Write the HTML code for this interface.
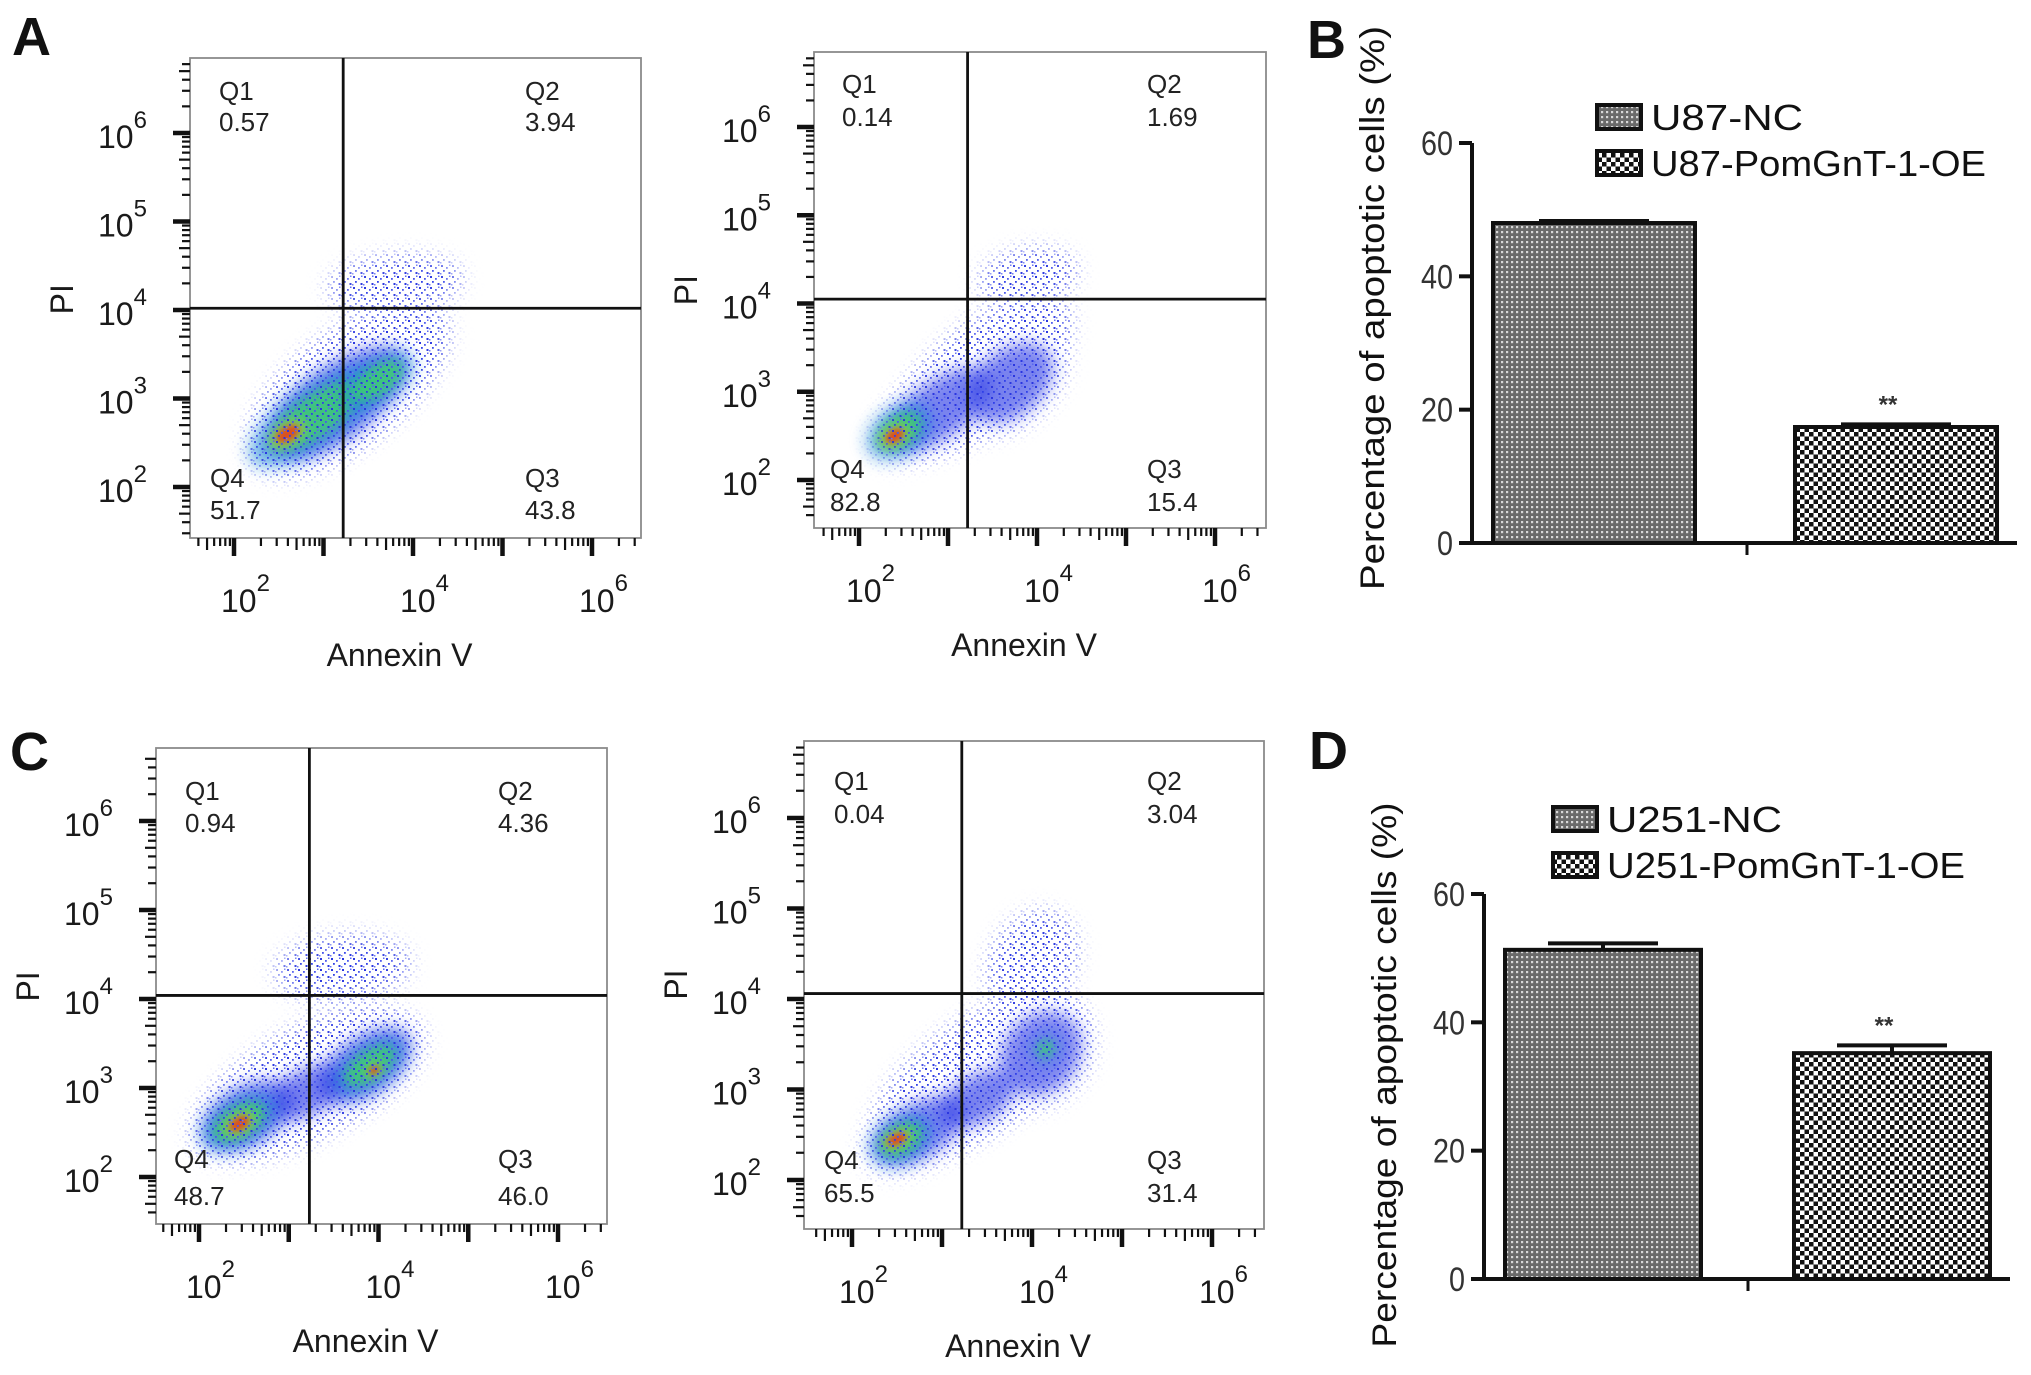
<!DOCTYPE html>
<html><head><meta charset="utf-8">
<style>
html,body{margin:0;padding:0;background:#fff;}
svg{display:block;font-family:"Liberation Sans",Arial,sans-serif;}
</style></head>
<body>
<svg id="fig" width="2031" height="1375" viewBox="0 0 2031 1375" xmlns="http://www.w3.org/2000/svg">
<defs>
  <filter id="blur9" x="-50%" y="-50%" width="200%" height="200%"><feGaussianBlur stdDeviation="10"/></filter>
  <filter id="blur6" x="-50%" y="-50%" width="200%" height="200%"><feGaussianBlur stdDeviation="8"/></filter>
  <filter id="blur4" x="-50%" y="-50%" width="200%" height="200%"><feGaussianBlur stdDeviation="5"/></filter>
  <filter id="blur2" x="-50%" y="-50%" width="200%" height="200%"><feGaussianBlur stdDeviation="3"/></filter>
  <pattern id="dots" width="11" height="11" patternUnits="userSpaceOnUse">
    <rect x="1" y="1" width="2" height="2" fill="#2a36e0"/>
    <rect x="6" y="3" width="1.8" height="1.8" fill="#4a56ee"/>
    <rect x="3" y="6" width="1.8" height="1.8" fill="#3040e8"/>
    <rect x="8.5" y="8" width="2" height="2" fill="#2a36e0"/>
    <rect x="0" y="9" width="1.5" height="1.5" fill="#6a76f2"/>
    <rect x="9" y="0.5" width="1.5" height="1.5" fill="#5a66f0"/>
  </pattern>
  <pattern id="patNC" width="5" height="5" patternUnits="userSpaceOnUse">
    <rect width="5" height="5" fill="#6a6a6a"/>
    <rect x="1" y="1" width="2.2" height="2.2" fill="#d8d8d8"/>
  </pattern>
  <pattern id="patOE" width="9" height="9" patternUnits="userSpaceOnUse">
    <rect width="9" height="9" fill="#fff"/>
    <rect x="0" y="0" width="4.5" height="4.5" fill="#111"/>
    <rect x="4.5" y="4.5" width="4.5" height="4.5" fill="#111"/>
  </pattern>
</defs>
</svg>
<script>
// ===== Flow cytometry data (log10 units) =====
const A1_quadValues = ['0.57','3.94','43.8','51.7'];
const A1_blobX = [3.3, 3.8, 3.15, 2.9, 3.6, 2.6];
const A1_blobY = [3.15, 4.3, 2.95, 2.8, 3.2, 2.6];
const A1_blobRx = [1.3, 0.75, 1.0, 0.75, 0.4, 0.14];
const A1_blobRy = [0.6, 0.3, 0.45, 0.28, 0.2, 0.08];
const A1_blobAngle = [-37, -5, -37, -35, -35, -30];
const A1_blobLevel = [0, 0, 1, 2, 2, 3];

const A2_quadValues = ['0.14','1.69','15.4','82.8'];
const A2_blobX = [3.4, 3.9, 2.9, 3.7, 2.45, 2.4];
const A2_blobY = [3.2, 4.3, 2.8, 3.1, 2.55, 2.5];
const A2_blobRx = [1.2, 0.55, 0.75, 0.6, 0.35, 0.11];
const A2_blobRy = [0.55, 0.3, 0.35, 0.4, 0.22, 0.07];
const A2_blobAngle = [-40, -10, -35, -40, -35, -30];
const A2_blobLevel = [0, 0, 1, 1, 2, 3];

const C1_quadValues = ['0.94','4.36','46.0','48.7'];
const C1_blobX = [3.2, 3.6, 2.55, 3.85, 3.2, 2.45, 3.9, 2.45, 3.95];
const C1_blobY = [3.05, 4.35, 2.7, 3.25, 2.95, 2.62, 3.25, 2.6, 3.2];
const C1_blobRx = [1.3, 0.75, 0.6, 0.65, 0.5, 0.4, 0.4, 0.12, 0.06];
const C1_blobRy = [0.6, 0.35, 0.35, 0.35, 0.28, 0.22, 0.2, 0.07, 0.04];
const C1_blobAngle = [-30, -5, -30, -35, -30, -30, -35, -30, -30];
const C1_blobLevel = [0, 0, 1, 1, 1, 2, 2, 3, 3];

const C2_quadValues = ['0.04','3.04','31.4','65.5'];
const C2_blobX = [3.4, 4.0, 2.75, 4.1, 3.4, 2.55, 4.15, 2.5];
const C2_blobY = [3.15, 4.4, 2.55, 3.4, 2.9, 2.45, 3.45, 2.45];
const C2_blobRx = [1.35, 0.6, 0.6, 0.55, 0.5, 0.32, 0.12, 0.11];
const C2_blobRy = [0.6, 0.45, 0.32, 0.45, 0.28, 0.2, 0.1, 0.06];
const C2_blobAngle = [-35, -60, -30, -50, -30, -30, -40, -25];
const C2_blobLevel = [0, 0, 1, 1, 1, 2, 2, 3];

const flowDecades = [2, 3, 4, 5, 6];
const quadNames = ['Q1','Q2','Q3','Q4'];

// ===== Bar chart data =====
const barTicks = [0, 20, 40, 60];
const B_categories = ['U87-NC', 'U87-PomGnT-1-OE'];
const B_values = [48.0, 17.4];
const B_errors = [0.3, 0.4];
const D_categories = ['U251-NC', 'U251-PomGnT-1-OE'];
const D_values = [51.3, 35.2];
const D_errors = [1.0, 1.2];

const NS = 'http://www.w3.org/2000/svg';
const svg = document.getElementById('fig');
const defs = svg.querySelector('defs');
function mk(tag, attrs, parent) {
  const e = document.createElementNS(NS, tag);
  for (const k in attrs) e.setAttribute(k, attrs[k]);
  (parent || svg).appendChild(e);
  return e;
}

function panelLetter(txt, x, y) {
  const t = mk('text', {x: x, y: y, 'font-size': 54, 'font-weight': 'bold', fill: '#111'});
  t.textContent = txt;
  
  
}

function flowPanel(id, p, bx, by, brx, bry, bang, blev, quadVals) {
  const [L, T, R, B] = p.box;
  const xs = v => p.xt2 + (v - 2) * p.dx;
  const ys = v => p.yt2 - (v - 2) * p.dy;
  const g = mk('g', {});
  
  

  const clip = mk('clipPath', {id: 'clip-' + id}, defs);
  mk('rect', {x: L, y: T, width: R - L, height: B - T}, clip);
  const mask = mk('mask', {id: 'mask-' + id}, defs);

  const dense = mk('g', {'clip-path': 'url(#clip-' + id + ')'}, g);
  
  
  const dotLayer = mk('rect', {x: L, y: T, width: R - L, height: B - T, fill: 'url(#dots)', mask: 'url(#mask-' + id + ')', 'clip-path': 'url(#clip-' + id + ')'}, g);
  
  

  for (const lev of [0, 1, 2, 3]) {
    for (let i = 0; i < bx.length; i++) {
      if (blev[i] !== lev) continue;
      const cx = xs(bx[i]), cy = ys(by[i]);
      const rx = brx[i] * p.dx, ry = bry[i] * p.dy;
      const tr = 'rotate(' + bang[i] + ' ' + cx + ' ' + cy + ')';
      if (lev === 0) {
        mk('ellipse', {cx: cx, cy: cy, rx: rx, ry: ry, transform: tr, fill: '#fff', filter: 'url(#blur9)'}, mask);
      } else if (lev === 1) {
        mk('ellipse', {cx: cx, cy: cy, rx: rx * 1.15, ry: ry * 1.15, transform: tr, fill: '#fff', filter: 'url(#blur9)'}, mask);
        const e = mk('ellipse', {cx: cx, cy: cy, rx: rx * 0.9, ry: ry * 0.9, transform: tr, fill: '#2030e4', opacity: 0.6, filter: 'url(#blur6)'}, dense);
        
        
      } else if (lev === 2) {
        const c = mk('ellipse', {cx: cx, cy: cy, rx: rx * 1.15, ry: ry * 1.2, transform: tr, fill: '#1a8ad8', opacity: 0.65, filter: 'url(#blur6)'}, dense);
        
        
        const e = mk('ellipse', {cx: cx, cy: cy, rx: rx * 0.8, ry: ry * 0.8, transform: tr, fill: '#40d860', opacity: 0.75, filter: 'url(#blur4)'}, dense);
        
        
      } else {
        const o = mk('ellipse', {cx: cx, cy: cy, rx: rx * 1.6, ry: ry * 1.6, transform: tr, fill: '#c8c830', opacity: 0.6, filter: 'url(#blur4)'}, dense);
        
        
        const e = mk('ellipse', {cx: cx, cy: cy, rx: rx, ry: ry, transform: tr, fill: '#e83a18', opacity: 0.85, filter: 'url(#blur2)'}, dense);
        
        
      }
    }
  }

  const frame = mk('rect', {x: L, y: T, width: R - L, height: B - T, fill: 'none', stroke: '#8a8a8a', 'stroke-width': 1.8}, g);
  
  

  const gx = xs(p.gateX), gy = ys(p.gateY);
  const vg = mk('line', {x1: gx, y1: T, x2: gx, y2: B, stroke: '#111', 'stroke-width': 2.8}, g);
  
  
  const hg = mk('line', {x1: L, y1: gy, x2: R, y2: gy, stroke: '#111', 'stroke-width': 2.8}, g);
  
  

  for (let d = 1; d <= 6; d++) {
    for (let k = 1; k <= 9; k++) {
      const v = d + Math.log10(k);
      const yy = ys(v);
      if (yy >= T + 4 && yy <= B - 3) {
        const ln = mk('line', {x1: L, y1: yy, x2: L - (k === 1 ? 17 : (k === 5 ? 11 : 8)), y2: yy, stroke: '#111', 'stroke-width': k === 1 ? 4.5 : 2.2}, g);
        
        
      }
      const xx = xs(v);
      if (xx >= L + 4 && xx <= R - 3) {
        const ln = mk('line', {x1: xx, y1: B, x2: xx, y2: B + (k === 1 ? 18 : (k === 5 ? 12 : 8)), stroke: '#111', 'stroke-width': k === 1 ? 4.5 : 2.2}, g);
        
        
      }
    }
  }
  for (const e of flowDecades) {
    const t = mk('text', {x: L - 92, y: ys(e) + 15, 'font-size': 32, fill: '#1a1a1a'}, g);
    t.textContent = '10';
    const s = mk('tspan', {dy: -20, 'font-size': 24}, t);
    s.textContent = String(e);
    
    
  }
  for (const e of [2, 4, 6]) {
    const t = mk('text', {x: xs(e) - 13, y: B + 74, 'font-size': 32, fill: '#1a1a1a'}, g);
    t.textContent = '10';
    const s = mk('tspan', {dy: -21, 'font-size': 24}, t);
    s.textContent = String(e);
    
    
  }
  const xt = mk('text', {x: (L + R) / 2 - 16, y: B + 128, 'font-size': 32, 'text-anchor': 'middle', fill: '#1a1a1a'}, g);
  xt.textContent = 'Annexin V';
  
  
  const yt = mk('text', {x: 0, y: 0, 'font-size': 32, 'text-anchor': 'middle', fill: '#1a1a1a', transform: 'translate(' + (L - 117) + ',' + (gy - 9) + ') rotate(-90)'}, g);
  yt.textContent = 'PI';
  
  

  const q = p.quad;
  const pos = [[q[0], q[3], q[4]], [q[1], q[3], q[4]], [q[1], q[5], q[6]], [q[2], q[5], q[6]]];
  for (let i = 0; i < 4; i++) {
    const t1 = mk('text', {x: pos[i][0], y: pos[i][1], 'font-size': 26, fill: '#222'}, g);
    t1.textContent = quadNames[i];
    
    
    const t2 = mk('text', {x: pos[i][0], y: pos[i][2], 'font-size': 26, fill: '#222'}, g);
    t2.textContent = quadVals[i];
    
    
  }
}

flowPanel('a-nc', {box: [190, 58, 641, 538], xt2: 234, dx: 89.5, yt2: 487, dy: 88.5, gateX: 3.22, gateY: 4.02, quad: [219, 525, 210, 100, 131, 487, 519]},
  A1_blobX, A1_blobY, A1_blobRx, A1_blobRy, A1_blobAngle, A1_blobLevel, A1_quadValues);
flowPanel('a-oe', {box: [814, 52, 1266, 528], xt2: 859, dx: 89, yt2: 480, dy: 88.25, gateX: 3.22, gateY: 4.05, quad: [842, 1147, 830, 93, 126, 478, 511]},
  A2_blobX, A2_blobY, A2_blobRx, A2_blobRy, A2_blobAngle, A2_blobLevel, A2_quadValues);
flowPanel('c-nc', {box: [156, 748, 607, 1224], xt2: 199, dx: 89.75, yt2: 1177, dy: 89, gateX: 3.23, gateY: 4.04, quad: [185, 498, 174, 800, 832, 1168, 1205]},
  C1_blobX, C1_blobY, C1_blobRx, C1_blobRy, C1_blobAngle, C1_blobLevel, C1_quadValues);
flowPanel('c-oe', {box: [804, 741, 1264, 1229], xt2: 852, dx: 90, yt2: 1180, dy: 90.5, gateX: 3.22, gateY: 4.06, quad: [834, 1147, 824, 790, 823, 1169, 1202]},
  C2_blobX, C2_blobY, C2_blobRx, C2_blobRy, C2_blobAngle, C2_blobLevel, C2_quadValues);

function barChart(id, p, cats, vals, errs) {
  const g = mk('g', {});
  
  
  const ys = v => p.y0 - (v / 60) * (p.y0 - p.y60);
  const pats = ['url(#patNC)', 'url(#patOE)'];
  for (let i = 0; i < vals.length; i++) {
    const cx = p.ax + p.firstOff + i * p.spacing;
    const top = ys(vals[i]);
    const r = mk('rect', {x: cx - p.bw / 2, y: top, width: p.bw, height: p.y0 - top, fill: pats[i], stroke: '#111', 'stroke-width': 4}, g);
    
    
    const et = ys(vals[i] + errs[i]);
    const ev = mk('line', {x1: cx, y1: top, x2: cx, y2: et, stroke: '#111', 'stroke-width': 4}, g);
    
    
    const ec = mk('line', {x1: cx - 55, y1: et, x2: cx + 55, y2: et, stroke: '#111', 'stroke-width': 4}, g);
    
    
    if (i === 1) {
      const s = mk('text', {x: cx - 8, y: et - 12, 'font-size': 24, 'font-weight': 'bold', 'text-anchor': 'middle', fill: '#333'}, g);
      s.textContent = '**';
      
      
    }
    const ly = p.legY + i * p.legGap;
    const sw = mk('rect', {x: p.legX, y: ly, width: 44, height: 24, fill: pats[i], stroke: '#111', 'stroke-width': 4}, g);
    
    
    const lt = mk('text', {x: p.legX + 54, y: ly + 25, 'font-size': 36, fill: '#111'}, g);
    lt.textContent = cats[i];
    lt.setAttribute('textLength', cats[i].length > 10 ? p.legLen : p.legLenShort);
    lt.setAttribute('lengthAdjust', 'spacingAndGlyphs');
    
    
  }
  const ya = mk('line', {x1: p.ax, y1: p.y60, x2: p.ax, y2: p.y0 + 2, stroke: '#111', 'stroke-width': 4}, g);
  
  
  const xa = mk('line', {x1: p.ax - 12, y1: p.y0, x2: p.axEnd, y2: p.y0, stroke: '#111', 'stroke-width': 4}, g);
  
  
  const ct = mk('line', {x1: p.midTick, y1: p.y0, x2: p.midTick, y2: p.y0 + 12, stroke: '#111', 'stroke-width': 3}, g);
  
  
  for (const v of barTicks) {
    const yy = ys(v);
    const tl = mk('line', {x1: p.ax - 13, y1: yy, x2: p.ax, y2: yy, stroke: '#111', 'stroke-width': 4}, g);
    
    
    const t = mk('text', {x: p.ax - 19, y: yy + 12, 'font-size': 34, 'text-anchor': 'end', fill: '#333'}, g);
    t.textContent = String(v);
    t.setAttribute('textLength', String(v).length * 16);
    t.setAttribute('lengthAdjust', 'spacingAndGlyphs');
    
    
  }
  const tt = mk('text', {x: 0, y: 0, 'font-size': 34, 'text-anchor': 'middle', fill: '#111', transform: 'translate(' + (p.titleX + 12) + ',' + p.titleY + ') rotate(-90)'}, g);
  tt.textContent = 'Percentage of apoptotic cells (%)';
  tt.setAttribute('textLength', p.titleLen);
  tt.setAttribute('lengthAdjust', 'spacingAndGlyphs');
  
  
}

barChart('b', {ax: 1472, axEnd: 2017, y0: 543, y60: 143, firstOff: 122, spacing: 302, bw: 202, midTick: 1747,
  legX: 1597, legY: 105, legGap: 46, legLen: 335, legLenShort: 152, titleX: 1372, titleY: 308, titleLen: 564},
  B_categories, B_values, B_errors);
barChart('d', {ax: 1484, axEnd: 2010, y0: 1279, y60: 894, firstOff: 119, spacing: 289, bw: 196, midTick: 1748,
  legX: 1553, legY: 807, legGap: 46, legLen: 358, legLenShort: 175, titleX: 1384, titleY: 1075, titleLen: 545},
  D_categories, D_values, D_errors);

panelLetter('A', 12, 55);
panelLetter('B', 1307, 58);
panelLetter('C', 10, 770);
panelLetter('D', 1309, 769);
</script>
</body></html>
